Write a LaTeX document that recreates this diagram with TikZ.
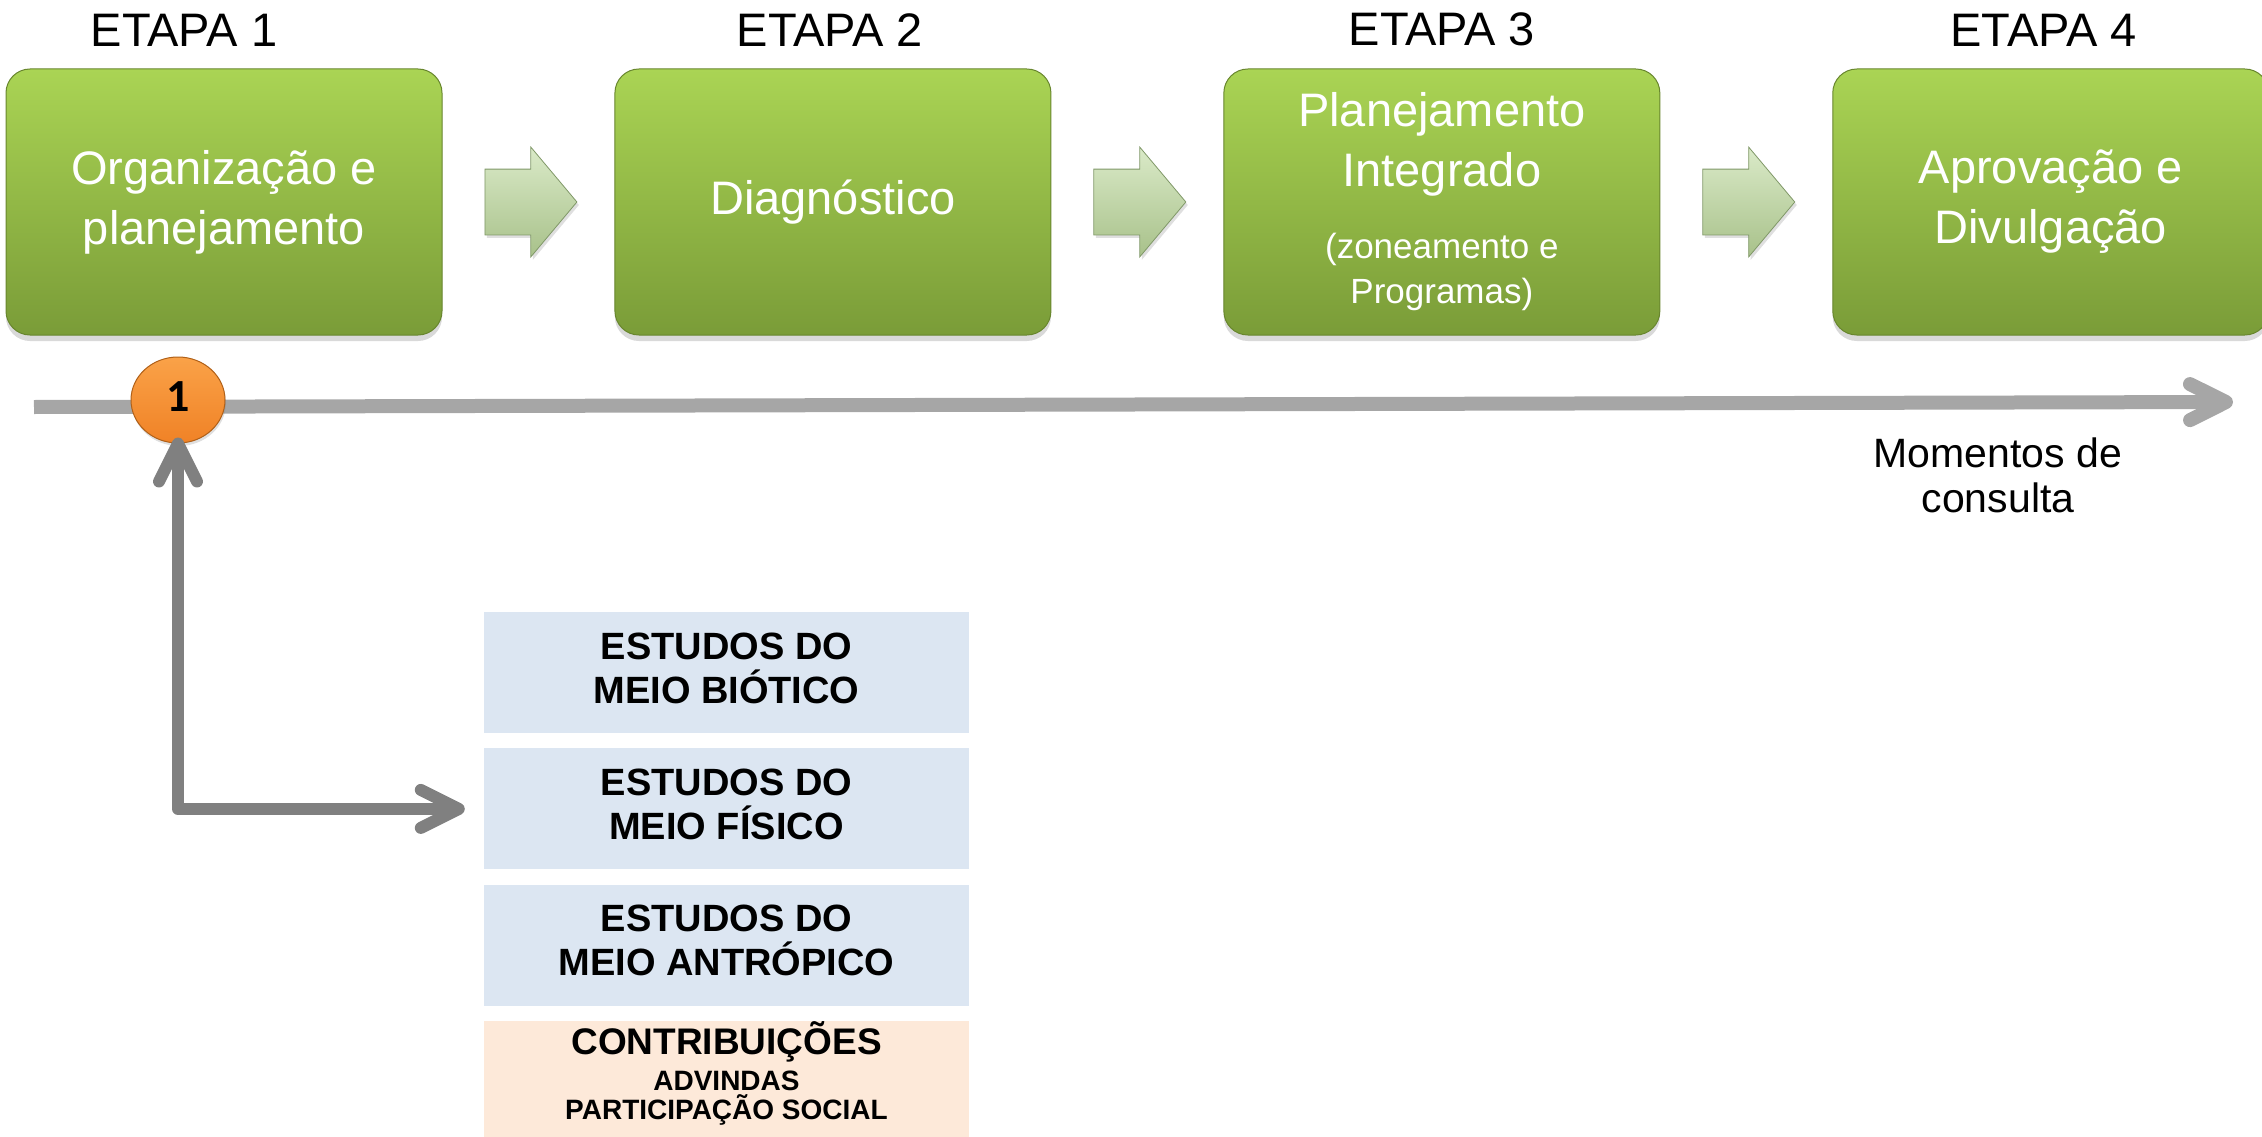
\documentclass[tikz,border=0pt]{standalone}
\usepackage{fontspec}
\setmainfont{Liberation Sans}
\newfontfamily\ballfont{Carlito}
\usetikzlibrary{positioning,shapes.geometric,shapes.arrows,shadows,arrows.meta}

\definecolor{stagetop}{RGB}{170,212,84}
\definecolor{stagebottom}{RGB}{122,156,56}
\definecolor{stageedge}{RGB}{104,134,46}
\definecolor{steptop}{RGB}{218,234,200}
\definecolor{stepbottom}{RGB}{168,193,138}
\definecolor{stepedge}{RGB}{128,152,104}
\definecolor{timegray}{RGB}{166,166,166}
\definecolor{linkgray}{RGB}{128,128,128}
\definecolor{balltop}{RGB}{250,162,72}
\definecolor{ballbottom}{RGB}{240,130,38}
\definecolor{balledge}{RGB}{176,96,24}
\definecolor{studyblue}{RGB}{220,230,242}
\definecolor{socialpeach}{RGB}{253,233,217}

\begin{document}
\begin{tikzpicture}[
    x=1pt, y=-1pt,
    stage/.style={
        rounded corners=24pt,
        minimum width=436pt,
        minimum height=266pt,
        inner sep=4pt,
        text width=424pt,
        align=flush center,
        top color=stagetop,
        bottom color=stagebottom,
        draw=stageedge,
        line width=1pt,
        text=white,
        font=\fontsize{47}{60}\selectfont,
        drop shadow={shadow xshift=0pt, shadow yshift=-6pt, opacity=.3}
    },
    stage label/.style={
        inner sep=0pt,
        font=\fontsize{47}{56}\selectfont
    },
    stage arrow/.style={
        single arrow,
        single arrow head extend=22pt,
        single arrow tip angle=100,
        minimum height=92pt,
        inner xsep=0pt,
        inner ysep=32.5pt,
        top color=steptop,
        bottom color=stepbottom,
        draw=stepedge,
        line width=.8pt,
        drop shadow={shadow xshift=2pt, shadow yshift=-3pt, opacity=.25}
    },
    timeline/.style={
        draw=timegray,
        line width=14pt,
        -{Straight Barb[length=36pt, width=36pt, round]}
    },
    link/.style={
        draw=linkgray,
        line width=12pt,
        line join=round,
        {Straight Barb[length=38pt, width=38pt, round]}-{Straight Barb[length=38pt, width=38pt, round]}
    },
    ball/.style={
        ellipse,
        minimum width=94pt,
        minimum height=86pt,
        inner sep=0pt,
        top color=balltop,
        bottom color=ballbottom,
        draw=balledge,
        line width=1pt,
        text depth=6pt,
        font=\ballfont\bfseries\fontsize{46}{46}\selectfont,
        drop shadow={shadow xshift=1pt, shadow yshift=-3pt, opacity=.25}
    },
    note/.style={
        align=flush center,
        text width=320pt,
        inner sep=0pt,
        font=\fontsize{41}{45}\selectfont
    },
    lift/.style={
        execute at end node={\endgraf\vspace*{#1}}
    },
    study/.style={
        minimum width=485pt,
        minimum height=121pt,
        inner sep=0pt,
        text width=480pt,
        align=flush center,
        fill=studyblue,
        lift=9pt,
        font=\bfseries\fontsize{38}{44}\selectfont
    },
    social/.style={
        study,
        fill=socialpeach,
        lift=15pt,
        font=\bfseries\fontsize{37}{44}\selectfont
    }
    ]
    \useasboundingbox (0,0) rectangle (2262,1137);

    % etapas
    \node[stage] (org) at (224,202) {Organização e\\planejamento};
    \node[stage arrow, right=42pt of org, anchor=tail] (arr1) {};
    \node[stage, right=37pt of arr1.tip] (diag) {Diagnóstico};
    \node[stage arrow, right=42pt of diag, anchor=tail] (arr2) {};
    \node[stage, right=37pt of arr2.tip] (plan)
        {Planejamento\\Integrado\\[27pt]\fontsize{35}{45}\selectfont (zoneamento e\\Programas)\par};
    \node[stage arrow, right=42pt of plan, anchor=tail] (arr3) {};
    \node[stage, right=37pt of arr3.tip] (aprov) {Aprovação e\\Divulgação};

    \node[stage label, above=22pt of org, xshift=-40pt] (e1) {ETAPA 1};
    \node[stage label, above=22pt of diag, xshift=-3pt] (e2) {ETAPA 2};
    \node[stage label, above=22pt of plan] (e3) {ETAPA 3};
    \node[stage label, above=22pt of aprov, xshift=-7pt] (e4) {ETAPA 4};

    % linha do tempo
    \coordinate (t0) at (34,407);
    \coordinate (t1) at (2233,402);
    \draw[timeline] (t0) -- (t1);
    \node[ball] (one) at (178,400) {1};
    \node[note] (consulta) at (1998,475) {Momentos de\\consulta};

    % estudos
    \node[study] (bio) at (726.5,672.5) {ESTUDOS DO\\MEIO BIÓTICO};
    \node[study, below=15pt of bio] (fis) {ESTUDOS DO\\MEIO FÍSICO};
    \node[study, below=15pt of fis] (antro) {ESTUDOS DO\\MEIO ANTRÓPICO};
    \node[social, below=15pt of antro] (social)
        {CONTRIBUIÇÕES\\[7pt]\fontsize{28}{29}\selectfont ADVINDAS\\PARTICIPAÇÃO SOCIAL\par};

    \draw[link] ([yshift=6pt]one.south) |- ([xshift=-19pt]fis.west);
\end{tikzpicture}
\end{document}
